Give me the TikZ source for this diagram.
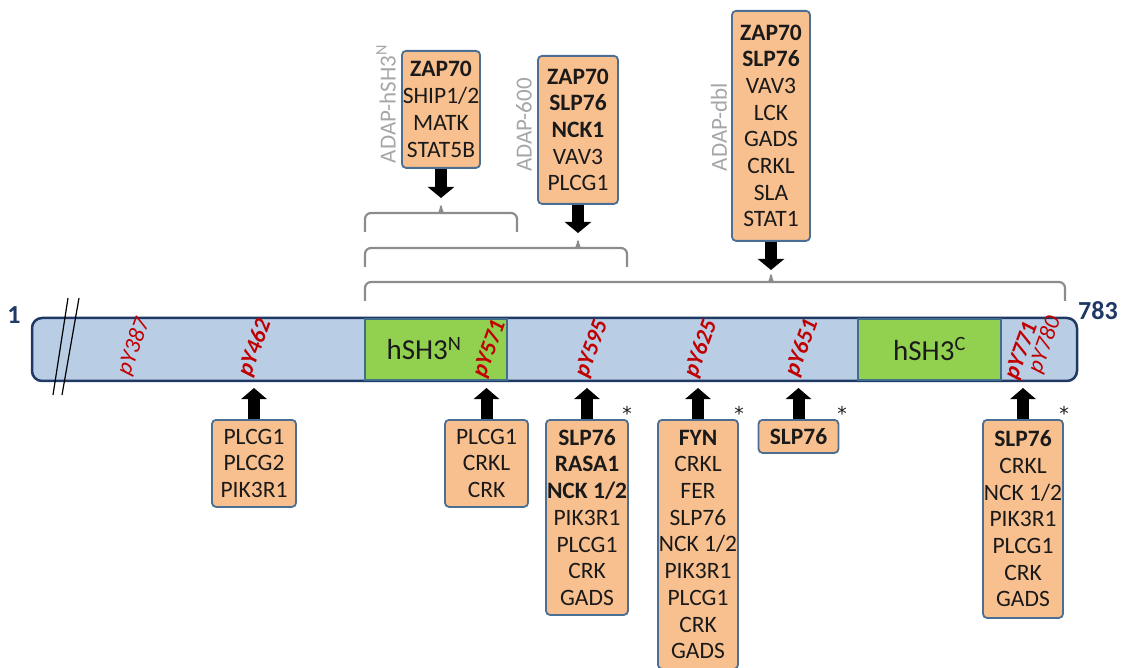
\documentclass[tikz,border=0pt]{standalone}
\usepackage{fontspec}
\setmainfont{Carlito}
\newfontfamily\symfont{DejaVu Sans}
\usetikzlibrary{arrows.meta}
\definecolor{boxfill}{HTML}{F9C08F}
\definecolor{boxedge}{HTML}{4A6E94}
\definecolor{barfill}{HTML}{B9CDE5}
\definecolor{baredge}{HTML}{1F3864}
\definecolor{greenfill}{HTML}{92D050}
\definecolor{greenedge}{HTML}{3F6F8C}
\definecolor{pyred}{HTML}{C00000}
\definecolor{brkgray}{HTML}{8C8C8C}
\definecolor{lblgray}{HTML}{A6A6A6}
\definecolor{txt}{HTML}{1A1A1A}
\tikzset{
  pbox/.style={draw=boxedge, fill=boxfill, line width=1.8pt, rounded corners=4pt,
    align=center, inner sep=0pt, anchor=north, text=txt,
    font=\fontsize{23.5}{26.7}\selectfont},
  barbox/.style={draw=baredge, fill=barfill, line width=2.5pt, rounded corners=10pt,
    inner sep=0pt, minimum height=63pt},
  greenbox/.style={draw=greenedge, fill=greenfill, line width=1.5pt,
    inner sep=0pt, minimum height=61pt, text=txt},
  pylbl/.style={text=pyred, rotate=70, inner sep=0pt, font=\fontsize{23}{26}\selectfont\itshape},
  pybold/.style={pylbl, font=\fontsize{23}{26}\selectfont\itshape\bfseries},
  adaplbl/.style={text=lblgray, rotate=90, inner sep=0pt, font=\fontsize{23}{26}\selectfont},
  endlbl/.style={text=baredge, inner sep=0pt, font=\fontsize{26}{28}\selectfont\bfseries},
  domlbl/.style={text=txt, inner sep=0pt, font=\fontsize{29}{31}\selectfont},
  uparrow/.style={draw=black, line width=12pt, -{Triangle[width=25pt,length=11pt]}},
  downarrow/.style={draw=black, line width=12pt, -{Triangle[width=26pt,length=11pt]}},
  brk/.style={draw=brkgray, line width=2.2pt, rounded corners=6pt},
  star/.style={inner sep=0pt, text=txt, font=\symfont\fontsize{19}{20}\selectfont},
}
\begin{document}
\begin{tikzpicture}[x=1pt,y=-1pt]
\useasboundingbox (0,0) rectangle (1125,668);
% bar
\node[barbox, minimum width=1045pt] (bar) at (554.5,349.5) {};
\node[greenbox, minimum width=142pt] (hsn) at (436,349.5) {};
\node[greenbox, minimum width=143pt] (hsc) at (929.5,349.5) {};
\node[domlbl] (hsnt) at (424,349) {hSH3\textsuperscript{N}};
\node[domlbl] (hsct) at (929.5,349) {hSH3\textsuperscript{C}};
% slashes
\draw[black, line width=1.2pt] (68,298) -- (53,395);
\draw[black, line width=1.2pt] (79,298) -- (62,395);
% ends
\node[endlbl] (one) at (14,315) {1};
\node[endlbl] (end) at (1098,311) {783};
% pY labels
\node[pylbl] (p387) at (134,347) {pY387};
\node[pybold] (p462) at (255,348) {pY462};
\node[pybold] (p571) at (490,349) {pY571};
\node[pybold] (p595) at (592,349) {pY595};
\node[pybold] (p625) at (701,349) {pY625};
\node[pybold] (p651) at (802,348) {pY651};
\node[pybold] (p771) at (1022,351) {pY771};
\node[pylbl] (p780) at (1045,345) {pY780};
% bottom boxes
\node[pbox, minimum width=84pt, minimum height=87pt] (b1) at (254,419) {PLCG1\\PLCG2\\PIK3R1};
\node[pbox, minimum width=83pt, minimum height=87pt] (b2) at (486.5,419) {PLCG1\\CRKL\\CRK};
\node[pbox, minimum width=82pt, minimum height=195pt] (b3) at (587,419) {\textbf{SLP76}\\\textbf{RASA1}\\\textbf{NCK 1/2}\\PIK3R1\\PLCG1\\CRK\\GADS};
\node[pbox, minimum width=80pt, minimum height=249pt] (b4) at (698,419) {\textbf{FYN}\\CRKL\\FER\\SLP76\\NCK 1/2\\PIK3R1\\PLCG1\\CRK\\GADS};
\node[pbox, minimum width=80pt, minimum height=33pt] (b5) at (798.5,419) {\textbf{SLP76}};
\node[pbox, minimum width=80pt, minimum height=198pt] (b6) at (1023,419) {\textbf{SLP76}\\CRKL\\NCK 1/2\\PIK3R1\\PLCG1\\CRK\\GADS};
% stars
\node[star] (s3) at (627,413) {*};
\node[star] (s4) at (739,413) {*};
\node[star] (s5) at (842,413) {*};
\node[star] (s6) at (1064,413) {*};
% bottom arrows
\coordinate (a1) at (254,388);
\coordinate (a2) at (486.5,388);
\coordinate (a3) at (587,388);
\coordinate (a4) at (698,388);
\coordinate (a5) at (798.5,388);
\coordinate (a6) at (1023,388);
\draw[uparrow] (b1.north) -- (a1);
\draw[uparrow] (b2.north) -- (a2);
\draw[uparrow] (b3.north) -- (a3);
\draw[uparrow] (b4.north) -- (a4);
\draw[uparrow] (b5.north) -- (a5);
\draw[uparrow] (b6.north) -- (a6);
% top boxes
\node[pbox, minimum width=78pt, minimum height=117pt] (t1) at (441,50) {\textbf{ZAP70}\\SHIP1/2\\MATK\\STAT5B};
\node[pbox, minimum width=80pt, minimum height=148pt] (t2) at (578,55) {\textbf{ZAP70}\\\textbf{SLP76}\\\textbf{NCK1}\\VAV3\\PLCG1};
\node[pbox, minimum width=78pt, minimum height=230pt] (t3) at (771,10) {\textbf{ZAP70}\\\textbf{SLP76}\\VAV3\\LCK\\GADS\\CRKL\\SLA\\STAT1};
% adap labels
\node[adaplbl] (l1) at (386,104) {ADAP-hSH3\textsuperscript{N}};
\node[adaplbl] (l2) at (524,125) {ADAP-600};
\node[adaplbl] (l3) at (719,127) {ADAP-dbl};
% brackets
\draw[brk] (365,232) |- (434,213) .. controls (438,213) and (441,211) .. (441,202) .. controls (441,211) and (444,213) .. (448,213) -| (517,232);
\draw[brk] (365,267) |- (571,248) .. controls (575,248) and (578,246) .. (578,237) .. controls (578,246) and (581,248) .. (585,248) -| (627,267);
\draw[brk] (365,301) |- (764,282) .. controls (768,282) and (771,280) .. (771,271) .. controls (771,280) and (774,282) .. (778,282) -| (1065,301);
% top arrows
\coordinate (c1) at (441,198);
\coordinate (c2) at (578,233);
\coordinate (c3) at (771,270);
\draw[downarrow] (t1.south) -- (c1);
\draw[downarrow] (t2.south) -- (c2);
\draw[downarrow] (t3.south) -- (c3);
\end{tikzpicture}
\end{document}
